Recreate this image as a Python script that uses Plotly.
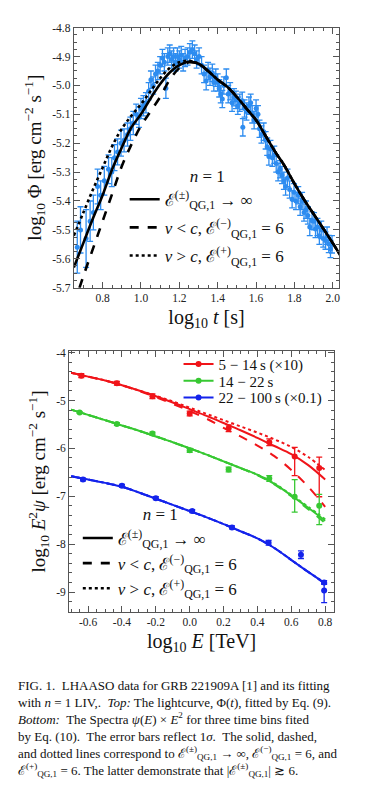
import plotly.graph_objects as go

# ---------------- data: top panel (lightcurve) ----------------
lc_t = [0.668, 0.685, 0.714, 0.735, 0.752, 0.774, 0.790, 0.809, 0.831, 0.848,
        0.862, 0.878, 0.896, 0.912, 0.930, 0.945, 0.960, 0.975, 0.990, 1.000,
        1.013, 1.026, 1.040, 1.052, 1.064, 1.076, 1.088, 1.100, 1.112, 1.122,
        1.130, 1.140, 1.150, 1.160, 1.170, 1.180, 1.190, 1.200, 1.210, 1.220,
        1.230, 1.243, 1.255, 1.268, 1.280, 1.290, 1.303, 1.316, 1.329, 1.340,
        1.350, 1.360, 1.372, 1.380, 1.390, 1.400, 1.408, 1.416, 1.424, 1.432,
        1.445, 1.455, 1.465, 1.475, 1.485, 1.495, 1.505, 1.515, 1.528, 1.531,
        1.540, 1.550, 1.563, 1.572, 1.580, 1.590, 1.600, 1.610, 1.618, 1.628,
        1.640, 1.650, 1.658, 1.667, 1.675, 1.685, 1.695, 1.705, 1.715, 1.725,
        1.735, 1.745, 1.754, 1.764, 1.775, 1.788, 1.798, 1.808, 1.820, 1.830,
        1.840, 1.850, 1.860, 1.870, 1.880, 1.892, 1.902, 1.910, 1.920, 1.930,
        1.940, 1.950, 1.962, 1.970, 1.979, 1.988, 1.996]
lc_v = [-5.56, -5.50, -5.53, -5.47, -5.44, -5.35, -5.38, -5.33, -5.29, -5.30,
        -5.25, -5.23, -5.20, -5.19, -5.17, -5.15, -5.13, -5.10, -5.11, -5.08,
        -5.07, -5.06, -5.02, -4.98, -5.00, -4.96, -4.95, -4.93, -4.905, -4.92,
        -5.01, -4.90, -4.89, -4.91, -4.90, -4.92, -4.90, -4.91, -4.895, -4.92,
        -4.905, -4.90, -4.885, -4.876, -4.89, -4.91, -4.90, -4.93, -4.96, -4.985,
        -4.95, -4.97, -4.956, -4.99, -4.973, -4.99, -5.01, -5.03, -5.047, -5.00,
        -4.973, -5.03, -5.02, -5.06, -5.041, -5.05, -5.07, -5.06, -5.053, -5.145,
        -5.08, -5.09, -5.07, -5.06, -5.10, -5.12, -5.08, -5.10, -5.15, -5.17,
        -5.16, -5.19, -5.212, -5.246, -5.22, -5.25, -5.24, -5.27, -5.30, -5.29,
        -5.31, -5.33, -5.35, -5.32, -5.36, -5.394, -5.37, -5.40, -5.38, -5.42,
        -5.40, -5.44, -5.43, -5.45, -5.49, -5.468, -5.47, -5.497, -5.49, -5.52,
        -5.50, -5.53, -5.537, -5.52, -5.549, -5.566, -5.55]
lc_err = [0.09, 0.08, 0.10, 0.07, 0.06, 0.06, 0.05, 0.05, 0.05, 0.05,
          0.045, 0.045, 0.045, 0.04, 0.04, 0.04, 0.04, 0.035, 0.035, 0.035,
          0.035, 0.035, 0.03, 0.03, 0.03, 0.03, 0.03, 0.03, 0.03, 0.03,
          0.035, 0.03, 0.03, 0.03, 0.03, 0.03, 0.03, 0.03, 0.03, 0.03,
          0.03, 0.03, 0.03, 0.03, 0.03, 0.03, 0.03, 0.03, 0.03, 0.03,
          0.03, 0.03, 0.03, 0.03, 0.03, 0.03, 0.03, 0.03, 0.03, 0.03,
          0.03, 0.03, 0.03, 0.03, 0.03, 0.03, 0.03, 0.03, 0.03, 0.03,
          0.03, 0.03, 0.03, 0.03, 0.03, 0.03, 0.03, 0.03, 0.03, 0.03,
          0.03, 0.03, 0.03, 0.03, 0.03, 0.03, 0.03, 0.03, 0.03, 0.03,
          0.03, 0.03, 0.03, 0.03, 0.03, 0.03, 0.03, 0.03, 0.03, 0.03,
          0.03, 0.03, 0.03, 0.03, 0.03, 0.03, 0.03, 0.03, 0.03, 0.03,
          0.03, 0.03, 0.03, 0.03, 0.03, 0.03, 0.03]

model_t = [0.65, 0.70, 0.75, 0.80, 0.85, 0.90, 0.95, 1.00, 1.05, 1.10, 1.15, 1.20,
           1.25, 1.30, 1.35, 1.40, 1.45, 1.50, 1.55, 1.60, 1.65, 1.70, 1.75, 1.80,
           1.85, 1.90, 1.95, 2.00, 2.05]
model_solid = [-5.63, -5.545, -5.46, -5.38, -5.29, -5.215, -5.145, -5.10, -5.045, -4.995,
               -4.955, -4.93, -4.918, -4.925, -4.95, -4.98, -5.005, -5.04, -5.08, -5.12,
               -5.175, -5.23, -5.28, -5.34, -5.395, -5.445, -5.495, -5.546, -5.60]
model_dashed = [-5.76, -5.66, -5.565, -5.47, -5.375, -5.28, -5.205, -5.14, -5.09, -5.04,
                -4.98, -4.94, -4.92, -4.925, -4.95, -4.98, -5.005, -5.04, -5.08, -5.12,
                -5.175, -5.23, -5.28, -5.34, -5.395, -5.445, -5.495, -5.546, -5.60]
model_dotted = [-5.52, -5.44, -5.36, -5.285, -5.21, -5.15, -5.105, -5.065, -5.02, -4.975,
                -4.94, -4.92, -4.915, -4.925, -4.95, -4.98, -5.005, -5.04, -5.08, -5.12,
                -5.175, -5.23, -5.28, -5.34, -5.395, -5.445, -5.495, -5.546, -5.60]

top_xticks = [0.8, 1.0, 1.2, 1.4, 1.6, 1.8, 2.0]
top_xlabels = ["0.8", "1.0", "1.2", "1.4", "1.6", "1.8", "2.0"]
top_yticks = [-4.8, -4.9, -5.0, -5.1, -5.2, -5.3, -5.4, -5.5, -5.6, -5.7]
top_ylabels = ["-4.8", "-4.9", "-5.0", "-5.1", "-5.2", "-5.3", "-5.4", "-5.5", "-5.6", "-5.7"]

# ---------------- data: bottom panel (spectra) ----------------
red_E = [-0.64, -0.43, -0.22, 0.00, 0.23, 0.47, 0.62, 0.765]
red_v = [-4.48, -4.64, -4.91, -5.27, -5.58, -5.87, -6.17, -6.41]
red_eu = [0.04, 0.04, 0.05, 0.05, 0.07, 0.07, 0.19, 0.23]
red_ed = [0.04, 0.04, 0.05, 0.05, 0.07, 0.07, 0.40, 0.60]

green_E = [-0.65, -0.43, -0.22, 0.00, 0.23, 0.47, 0.62, 0.765]
green_v = [-5.25, -5.49, -5.69, -6.04, -6.44, -6.63, -7.01, -7.20]
green_eu = [0.02, 0.03, 0.03, 0.04, 0.05, 0.06, 0.36, 0.24]
green_ed = [0.02, 0.03, 0.03, 0.04, 0.05, 0.06, 0.32, 0.39]

blue_E = [-0.63, -0.40, -0.20, 0.015, 0.25, 0.466, 0.657, 0.794, 0.794]
blue_v = [-6.65, -6.78, -7.04, -7.31, -7.65, -7.97, -8.22, -8.80, -8.97]
blue_eu = [0.03, 0.03, 0.03, 0.03, 0.03, 0.05, 0.08, 0.04, 0.15]
blue_ed = [0.03, 0.03, 0.03, 0.03, 0.03, 0.05, 0.08, 0.04, 0.25]

spec_E = [-0.7, -0.6, -0.5, -0.4, -0.3, -0.2, -0.1, 0.0, 0.1, 0.2, 0.3, 0.4, 0.5, 0.6, 0.7, 0.8]
red_solid = [-4.42, -4.50, -4.58, -4.68, -4.79, -4.91, -5.04, -5.18, -5.32, -5.47, -5.62, -5.78, -5.95, -6.12, -6.35, -6.65]
red_dashed = [-4.42, -4.50, -4.58, -4.68, -4.80, -4.93, -5.07, -5.22, -5.38, -5.57, -5.75, -5.94, -6.16, -6.45, -6.80, -7.22]
red_dotted = [-4.42, -4.50, -4.58, -4.68, -4.79, -4.90, -5.02, -5.15, -5.28, -5.41, -5.54, -5.67, -5.81, -5.97, -6.18, -6.45]
green_solid = [-5.19, -5.30, -5.41, -5.52, -5.63, -5.75, -5.87, -6.00, -6.13, -6.27, -6.41, -6.55, -6.74, -6.98, -7.24, -7.51]
green_dashed = [-5.19, -5.30, -5.41, -5.52, -5.63, -5.75, -5.87, -6.00, -6.13, -6.27, -6.41, -6.56, -6.75, -7.00, -7.27, -7.56]
green_dotted = [-5.19, -5.30, -5.41, -5.52, -5.63, -5.75, -5.87, -6.00, -6.13, -6.27, -6.41, -6.55, -6.73, -6.97, -7.22, -7.48]
blue_solid = [-6.58, -6.65, -6.72, -6.80, -6.92, -7.05, -7.18, -7.31, -7.44, -7.58, -7.73, -7.88, -8.08, -8.33, -8.58, -8.82]
blue_dashed = [-6.58, -6.65, -6.72, -6.80, -6.92, -7.05, -7.18, -7.31, -7.44, -7.58, -7.73, -7.88, -8.08, -8.33, -8.58, -8.83]
blue_dotted = [-6.58, -6.65, -6.72, -6.80, -6.92, -7.05, -7.18, -7.31, -7.44, -7.58, -7.73, -7.88, -8.08, -8.33, -8.58, -8.81]

bot_xticks = [-0.6, -0.4, -0.2, 0.0, 0.2, 0.4, 0.6, 0.8]
bot_xlabels = ["-0.6", "-0.4", "-0.2", "0.0", "0.2", "0.4", "0.6", "0.8"]
bot_yticks = [-4, -5, -6, -7, -8, -9]
bot_ylabels = ["-4", "-5", "-6", "-7", "-8", "-9"]

series_names = ["5 − 14\u2009s (×10)", "14 − 22\u2009s", "22 − 100\u2009s (×0.1)"]

caption_lines = [
    "FIG. 1.  LHAASO data for GRB 221909A [1] and its fitting",
    "with <i>n</i> = 1 LIV,.  <i>Top:</i> The lightcurve, Φ(<i>t</i>), fitted by Eq. (9).",
    "<i>Bottom:</i>  The Spectra <i>ψ</i>(<i>E</i>) × <i>E</i><sup>2</sup> for three time bins fited",
    "by Eq. (10).  The error bars reflect 1<i>σ</i>.  The solid, dashed,",
    "and dotted lines correspond to ℰ<sup>(±)</sup><sub>QG,1</sub> → ∞, ℰ<sup>(−)</sup><sub>QG,1</sub> = 6, and",
    "ℰ<sup>(+)</sup><sub>QG,1</sub> = 6. The latter demonstrate that |ℰ<sup>(±)</sup><sub>QG,1</sub>| ≳ 6.",
]

LBL_SOLID = "ℰ<sup>(±)</sup><sub>QG,1</sub> → ∞"
LBL_DASH = "<i>v</i> &lt; <i>c</i>, ℰ<sup>(−)</sup><sub>QG,1</sub> = 6"
LBL_DOT = "<i>v</i> &gt; <i>c</i>, ℰ<sup>(+)</sup><sub>QG,1</sub> = 6"

FONT = "Liberation Serif, DejaVu Serif, serif"
W, H = 388, 790
LC_BLUE = "rgb(45,140,240)"
RED = "rgb(240,20,25)"
GREEN = "rgb(55,200,50)"
BLUE = "rgb(20,35,235)"

fig = go.Figure()

# ---- top panel ----
fig.add_trace(go.Scatter(
    x=lc_t, y=lc_v, mode="markers", xaxis="x", yaxis="y", showlegend=False,
    marker=dict(color=LC_BLUE, size=5),
    error_y=dict(type="data", array=lc_err, color=LC_BLUE, thickness=1.3, width=3)))
for yv, dash, name, grp in [(model_solid, "solid", LBL_SOLID, "a"),
                            (model_dashed, "dash", LBL_DASH, "b"),
                            (model_dotted, "dot", LBL_DOT, "c")]:
    fig.add_trace(go.Scatter(
        x=model_t, y=yv, mode="lines", xaxis="x", yaxis="y", name=name, legendgroup=grp,
        line=dict(color="black", width=2.6, dash=dash, shape="spline"), legend="legend2"))

# ---- bottom panel ----
color_legends = ["legend", "legend4", "legend5"]
for E, v, eu, ed, col, sol, das, dot, nm, lg in [
    (red_E, red_v, red_eu, red_ed, RED, red_solid, red_dashed, red_dotted, series_names[0], color_legends[0]),
    (green_E, green_v, green_eu, green_ed, GREEN, green_solid, green_dashed, green_dotted, series_names[1], color_legends[1]),
    (blue_E, blue_v, blue_eu, blue_ed, BLUE, blue_solid, blue_dashed, blue_dotted, series_names[2], color_legends[2])]:
    for yv, dash in [(sol, "solid"), (das, "dash"), (dot, "dot")]:
        fig.add_trace(go.Scatter(
            x=spec_E, y=yv, mode="lines", xaxis="x2", yaxis="y2", showlegend=False,
            line=dict(color=col, width=2, dash=dash, shape="spline")))
    fig.add_trace(go.Scatter(
        x=E, y=v, mode="markers", xaxis="x2", yaxis="y2", showlegend=False,
        marker=dict(color=col, size=6),
        error_y=dict(type="data", symmetric=False, array=eu, arrayminus=ed,
                     color=col, thickness=1.3, width=3)))
    fig.add_trace(go.Scatter(
        x=[None], y=[None], mode="lines+markers", xaxis="x2", yaxis="y2", name=nm,
        marker=dict(color=col, size=6), line=dict(color=col, width=2), legend=lg))

for name, dash in [(LBL_SOLID, "solid"), (LBL_DASH, "dash"), (LBL_DOT, "dot")]:
    fig.add_trace(go.Scatter(
        x=[None], y=[None], mode="lines", xaxis="x2", yaxis="y2", name=name,
        line=dict(color="black", width=2.6, dash=dash), legend="legend3"))

axis_common = dict(showline=True, linecolor="#555", linewidth=1, mirror="allticks",
                   ticks="inside", ticklen=6, tickcolor="#555", showgrid=False,
                   zeroline=False, tickfont=dict(size=11.5, color="#222", family=FONT))

def color_legend(top_px):
    return dict(x=179 / W, y=1 - top_px / H, xanchor="left", yanchor="top",
                bgcolor="rgba(0,0,0,0)", font=dict(size=15, family=FONT), itemwidth=30)

fig.update_layout(
    width=W, height=H, margin=dict(l=0, r=0, t=0, b=0),
    paper_bgcolor="white", plot_bgcolor="white",
    font=dict(family=FONT, color="#111"),
    xaxis=dict(domain=[74 / W, 340 / W], range=[0.65, 2.033], anchor="y",
               tickvals=top_xticks, ticktext=top_xlabels,
               minor=dict(ticks="inside", ticklen=3, dtick=0.05, tick0=0, tickcolor="#555"),
               title=dict(text="log<sub>10</sub> <i>t</i> [s]", font=dict(size=20), standoff=6),
               **axis_common),
    yaxis=dict(domain=[1 - 286 / H, 1 - 22 / H], range=[-5.7, -4.8], anchor="x",
               tickvals=top_yticks, ticktext=top_ylabels,
               minor=dict(ticks="inside", ticklen=3, dtick=0.025, tick0=0, tickcolor="#555"),
               title=dict(text="log<sub>10</sub> Φ [erg cm<sup>−2</sup> s<sup>−1</sup>]",
                          font=dict(size=19), standoff=5),
               **axis_common),
    xaxis2=dict(domain=[69.3 / W, 335 / W], range=[-0.712, 0.853], anchor="y2",
                tickvals=bot_xticks, ticktext=bot_xlabels,
                minor=dict(ticks="inside", ticklen=3, dtick=0.05, tick0=0, tickcolor="#555"),
                title=dict(text="log<sub>10</sub> <i>E</i> [TeV]", font=dict(size=20), standoff=6),
                **axis_common),
    yaxis2=dict(domain=[1 - 615 / H, 1 - 350.7 / H], range=[-9.41, -3.973], anchor="x2",
                tickvals=bot_yticks, ticktext=bot_ylabels,
                minor=dict(ticks="inside", ticklen=3, dtick=0.2, tick0=0, tickcolor="#555"),
                title=dict(text="log<sub>10</sub> <i>E</i><sup>2</sup><i>ψ</i> [erg cm<sup>−2</sup> s<sup>−1</sup>]",
                           font=dict(size=19), standoff=5),
                **axis_common),
    legend=color_legend(347),
    legend4=color_legend(364),
    legend5=color_legend(381),
    legend2=dict(x=125 / W, y=1 - 156 / H, xanchor="left", yanchor="top",
                 bgcolor="rgba(0,0,0,0)", font=dict(size=17, family=FONT),
                 title=dict(text="<i>n</i> = 1", font=dict(size=17), side="top center"),
                 itemwidth=30, tracegroupgap=3),
    legend3=dict(x=78 / W, y=1 - 500 / H, xanchor="left", yanchor="top",
                 bgcolor="rgba(0,0,0,0)", font=dict(size=17, family=FONT),
                 title=dict(text="<i>n</i> = 1", font=dict(size=17), side="top center"),
                 itemwidth=30),
)

fig.add_annotation(text="<br>".join(caption_lines), x=16 / W, y=1 - 680 / H,
                   xref="paper", yref="paper", xanchor="left", yanchor="top",
                   showarrow=False, align="left",
                   font=dict(size=13, family=FONT, color="#111"))

fig.write_html("out.html", config={"displayModeBar": False},
               post_script="document.body.style.margin='0';document.body.style.overflow='hidden';")
